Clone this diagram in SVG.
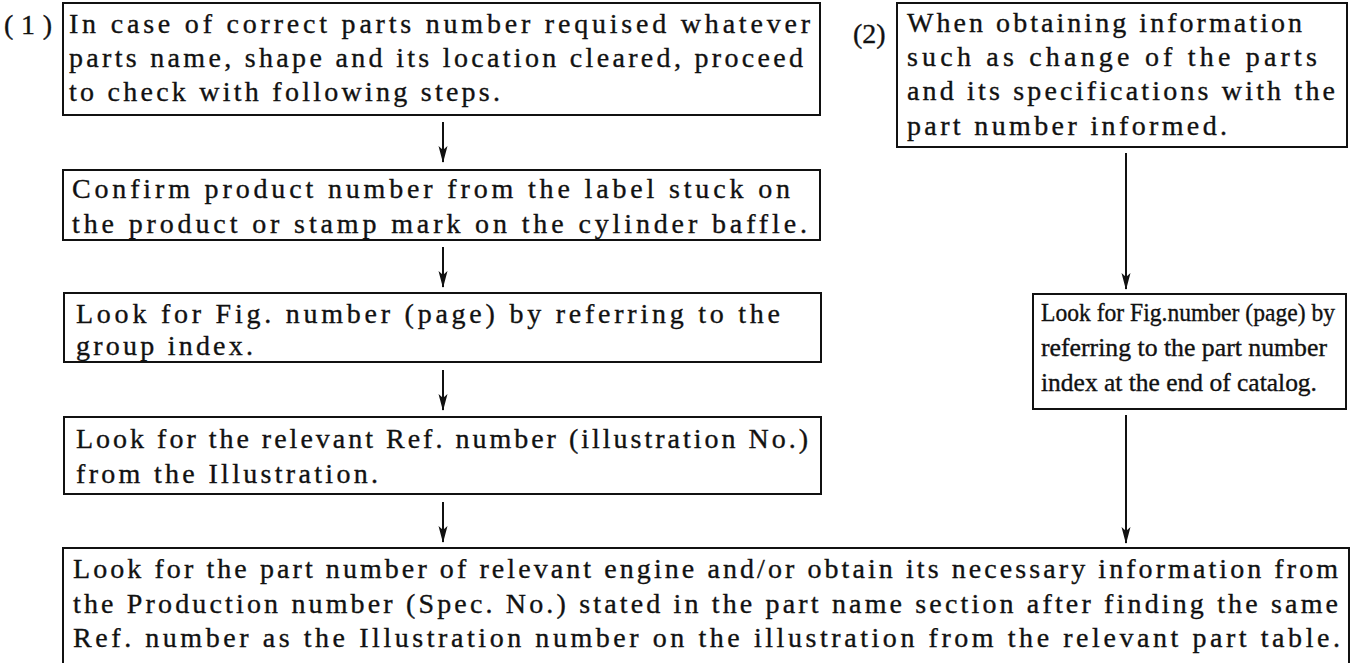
<svg xmlns="http://www.w3.org/2000/svg" width="1360" height="663" viewBox="0 0 1360 663">
<style>
.box{fill:#fff;stroke:#111;stroke-width:2}
.t{font-family:"Liberation Serif","DejaVu Serif",serif;font-size:28px;fill:#111;stroke:#111;stroke-width:0.35}
.s{font-size:25.5px}
.c{stroke:#111;stroke-width:2;fill:none}
</style>
<defs>
<marker id="ah" markerUnits="userSpaceOnUse" markerWidth="17" markerHeight="10" viewBox="0 0 17 10" refX="16" refY="5" orient="auto">
<path d="M0,0.5 L17,5 L0,9.5 L4,5 Z" fill="#111"/>
</marker>
</defs>
<rect width="1360" height="663" fill="#fff"/>
<g id="connectors">
<line class="c" x1="443" y1="122" x2="443" y2="162" marker-end="url(#ah)"/>
<line class="c" x1="443" y1="247" x2="443" y2="287" marker-end="url(#ah)"/>
<line class="c" x1="443" y1="370" x2="443" y2="410" marker-end="url(#ah)"/>
<line class="c" x1="443" y1="502" x2="443" y2="542" marker-end="url(#ah)"/>
<line class="c" x1="1126" y1="153" x2="1126" y2="289" marker-end="url(#ah)"/>
<line class="c" x1="1126" y1="415" x2="1126" y2="543" marker-end="url(#ah)"/>
</g>
<g id="label1"><text class="t" x="4" y="34" textLength="48" lengthAdjust="spacing">(1)</text></g>
<g id="label2"><text class="t" x="853" y="43">(2)</text></g>
<g id="node1">
<rect class="box" x="63" y="3" width="757" height="112"/>
<text class="t" x="69" y="33" textLength="741" lengthAdjust="spacing">In case of correct parts number requised whatever</text>
<text class="t" x="69" y="67" textLength="734" lengthAdjust="spacing">parts name, shape and its location cleared, proceed</text>
<text class="t" x="69" y="101" textLength="431" lengthAdjust="spacing">to check with following steps.</text>
</g>
<g id="node2">
<rect class="box" x="63" y="170" width="757" height="70"/>
<text class="t" x="72" y="198" textLength="718" lengthAdjust="spacing">Confirm product number from the label stuck on</text>
<text class="t" x="72" y="233" textLength="735" lengthAdjust="spacing">the product or stamp mark on the cylinder baffle.</text>
</g>
<g id="node3">
<rect class="box" x="64" y="293" width="757" height="69"/>
<text class="t" x="76" y="323" textLength="704" lengthAdjust="spacing">Look for Fig. number (page) by referring to the</text>
<text class="t" x="76" y="355" textLength="177" lengthAdjust="spacing">group index.</text>
</g>
<g id="node4">
<rect class="box" x="64" y="417" width="757" height="77"/>
<text class="t" x="76" y="448" textLength="732" lengthAdjust="spacing">Look for the relevant Ref. number (illustration No.)</text>
<text class="t" x="76" y="483" textLength="302" lengthAdjust="spacing">from the Illustration.</text>
</g>
<g id="node5">
<rect class="box" x="897" y="3" width="450" height="144"/>
<text class="t" x="907" y="32" textLength="395" lengthAdjust="spacing">When obtaining information</text>
<text class="t" x="907" y="66" textLength="410" lengthAdjust="spacing">such as change of the parts</text>
<text class="t" x="907" y="100" textLength="428" lengthAdjust="spacing">and its specifications with the</text>
<text class="t" x="907" y="135" textLength="320" lengthAdjust="spacing">part number informed.</text>
</g>
<g id="node6">
<rect class="box" x="1033" y="294" width="313" height="115"/>
<text class="t s" x="1041" y="321" textLength="294" lengthAdjust="spacingAndGlyphs">Look for Fig.number (page) by</text>
<text class="t s" x="1041" y="356" textLength="286" lengthAdjust="spacingAndGlyphs">referring to the part number</text>
<text class="t s" x="1041" y="391" textLength="276" lengthAdjust="spacingAndGlyphs">index at the end of catalog.</text>
</g>
<g id="node7">
<path class="box" d="M63,670 L63,548 L1349,548 L1349,670"/>
<text class="t" x="73" y="578" textLength="1265" lengthAdjust="spacing">Look for the part number of relevant engine and/or obtain its necessary information from</text>
<text class="t" x="73" y="613" textLength="1265" lengthAdjust="spacing">the Production number (Spec. No.) stated in the part name section after finding the same</text>
<text class="t" x="73" y="647" textLength="1267" lengthAdjust="spacing">Ref. number as the Illustration number on the illustration from the relevant part table.</text>
</g>
</svg>
